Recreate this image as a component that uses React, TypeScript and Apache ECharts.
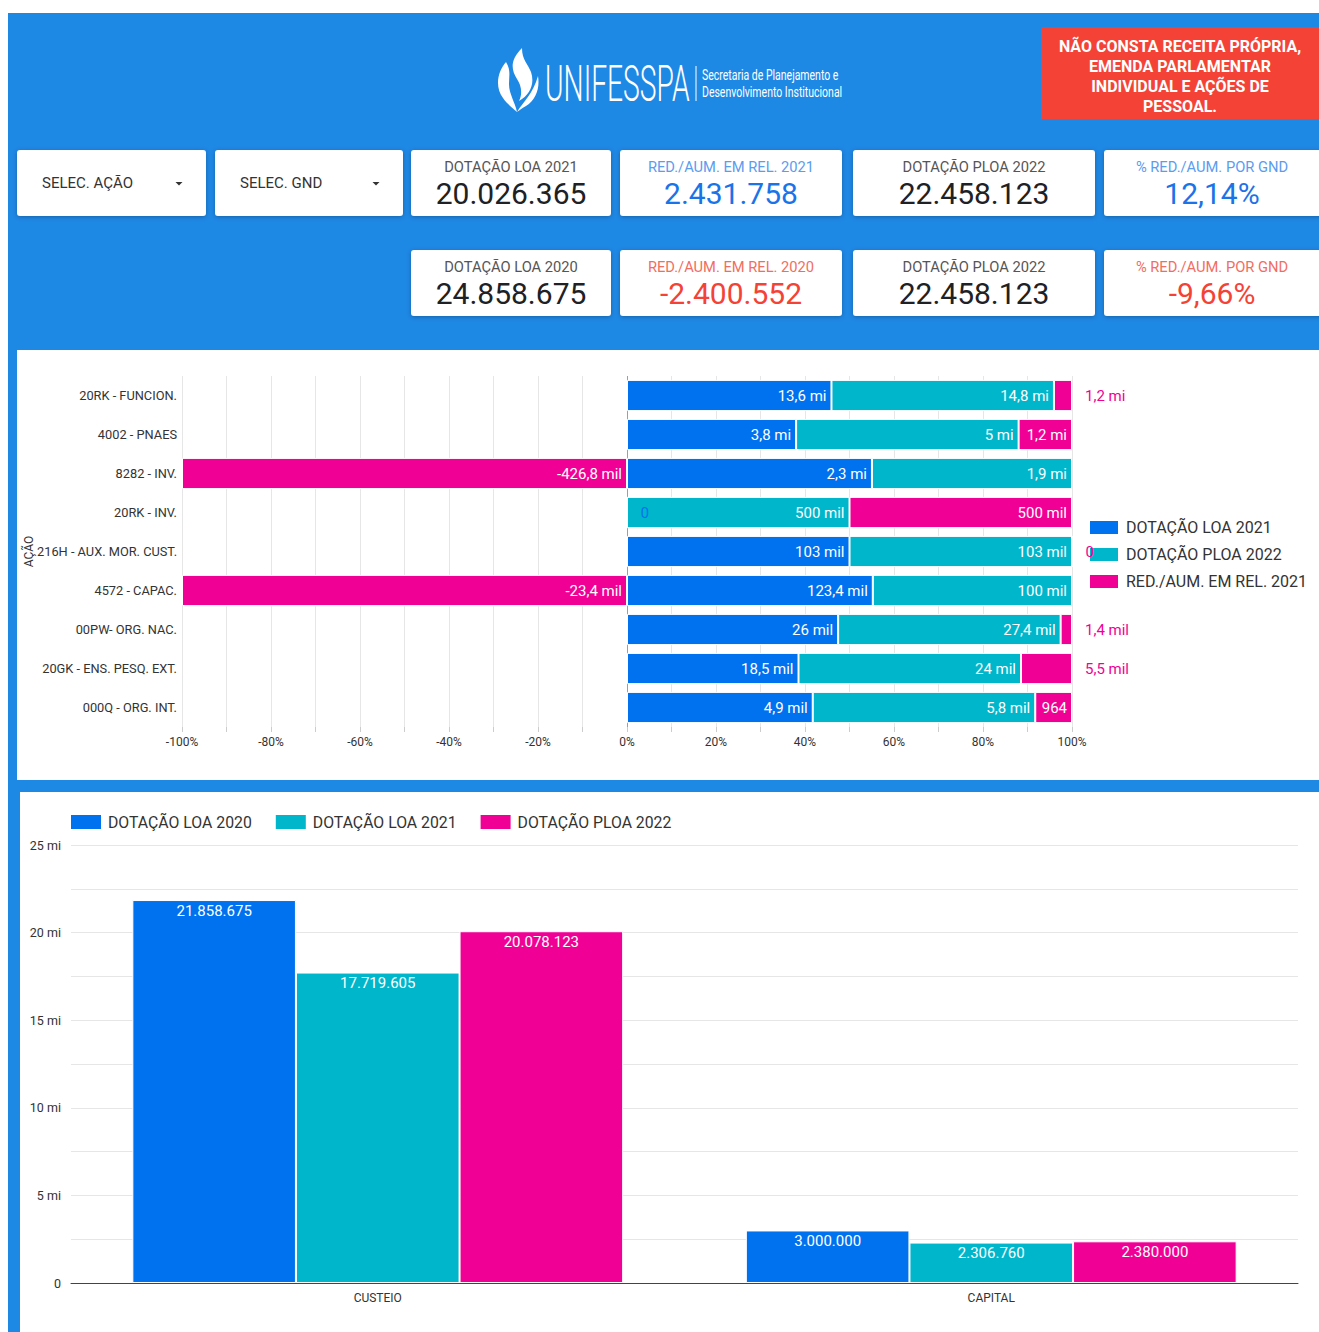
import React, { useEffect, useRef } from 'react';
import * as echarts from 'echarts';

const W = 1319;
const H = 1332;

// ---------- header / KPI data ----------
const noteLines = ['NÃO CONSTA RECEITA PRÓPRIA,', 'EMENDA PARLAMENTAR', 'INDIVIDUAL E AÇÕES DE', 'PESSOAL.'];
const filterLabels = ['SELEC. AÇÃO', 'SELEC. GND'];
const kpiTitlesRow1 = ['DOTAÇÃO LOA 2021', 'RED./AUM. EM REL. 2021', 'DOTAÇÃO PLOA 2022', '% RED./AUM. POR GND'];
const kpiValuesRow1 = ['20.026.365', '2.431.758', '22.458.123', '12,14%'];
const kpiTonesRow1 = ['neutral', 'blue', 'neutral', 'blue'];
const kpiTitlesRow2 = ['DOTAÇÃO LOA 2020', 'RED./AUM. EM REL. 2020', 'DOTAÇÃO PLOA 2022', '% RED./AUM. POR GND'];
const kpiValuesRow2 = ['24.858.675', '-2.400.552', '22.458.123', '-9,66%'];
const kpiTonesRow2 = ['neutral', 'red', 'neutral', 'red'];

// ---------- top chart data ----------
const acoes = [
  '20RK - FUNCION.',
  '4002 - PNAES',
  '8282 - INV.',
  '20RK - INV.',
  '216H - AUX. MOR. CUST.',
  '4572 - CAPAC.',
  '00PW- ORG. NAC.',
  '20GK - ENS. PESQ. EXT.',
  '000Q - ORG. INT.',
];
const loa2021 = [13600000, 3800000, 2326800, 0, 103000, 123400, 26000, 18500, 4872];
const ploa2022 = [14800000, 5000000, 1900000, 500000, 103000, 100000, 27400, 24000, 5836];
const redAum2021 = [1200000, 1200000, -426800, 500000, 0, -23400, 1400, 5500, 964];
const topSeriesNames = ['DOTAÇÃO LOA 2021', 'DOTAÇÃO PLOA 2022', 'RED./AUM. EM REL. 2021'];

// ---------- bottom chart data ----------
const gnd = ['CUSTEIO', 'CAPITAL'];
const loa2020Gnd = [21858675, 3000000];
const loa2021Gnd = [17719605, 2306760];
const ploa2022Gnd = [20078123, 2380000];
const bottomSeriesNames = ['DOTAÇÃO LOA 2020', 'DOTAÇÃO LOA 2021 ', 'DOTAÇÃO PLOA 2022 '];

const C_BLUE = '#0072f0';
const C_TEAL = '#00b6cb';
const C_PINK = '#f10096';
const BG_BLUE = '#1e88e5';

const flamePath =
  'M27 0 C15 12 16 22 22 31 C26 37 28 45 24 53 C35 47 40 36 36 24 C33 16 27 12 27 0 Z ' +
  'M11 14 C2 24 0 40 8 50 C12 56 18 60 22 64 C20 54 14 46 14 36 C14 28 16 22 11 14 Z ' +
  'M43 28 C45 40 41 52 31 58 C27 60 25 62 22 64 C28 54 38 46 43 28 Z';
try {
  echarts.graphic.registerShape('unifesspaFlame', echarts.graphic.extendPath(flamePath, {}));
} catch (e) {
  // ignore
}

function fmtDec(x: number) {
  const r = Math.round(x * 10) / 10;
  return String(r).replace('.', ',');
}
function compact(v: number) {
  const a = Math.abs(v);
  if (a >= 1e6) return fmtDec(v / 1e6) + ' mi';
  if (a >= 1e3) return fmtDec(v / 1e3) + ' mil';
  return String(Math.round(v));
}
function dots(v: number) {
  return String(Math.round(v)).replace(/\B(?=(\d{3})+(?!\d))/g, '.');
}

const G1_LEFT = 182;
const G1_RIGHT_X = 1072;
const G1_TOP = 376;
const G1_H = 351;
const G2_LEFT = 71;
const G2_RIGHT_X = 1298;
const G2_TOP = 845;
const G2_H = 438;

export default function App() {
  const ref = useRef<HTMLDivElement>(null);

  useEffect(() => {
    if (!ref.current) return;
    const chart = echarts.init(ref.current, undefined, { renderer: 'svg' });

    const canvas = document.createElement('canvas');
    const ctx = canvas.getContext('2d') as CanvasRenderingContext2D;
    ctx.font = '15px Roboto';
    const textW = (s: string) => ctx.measureText(s).width;

    const pxPerPct = (G1_RIGHT_X - G1_LEFT) / 200;
    const raws = [loa2021, ploa2022, redAum2021];
    const colors = [C_BLUE, C_TEAL, C_PINK];

    const pctOf = (i: number, v: number) => {
      let pos = 0;
      let neg = 0;
      raws.forEach((arr) => {
        if (arr[i] >= 0) pos += arr[i];
        else neg += -arr[i];
      });
      if (v >= 0) return pos ? (v / pos) * 100 : 0;
      return neg ? (v / neg) * 100 : 0;
    };

    const topSeries = raws.map((arr, si) => {
      const data = arr.map((v, i) => {
        const p = pctOf(i, v);
        const text = compact(v);
        const fits = Math.abs(p) * pxPerPct >= textW(text) + 10;
        return {
          value: p,
          label: fits
            ? { position: 'insideRight', color: '#fff', distance: 5 }
            : { position: 'right', color: colors[si], distance: 13 },
        };
      });
      const s: any = {
        name: topSeriesNames[si],
        type: 'bar',
        stack: 'top',
        z: 5,
        xAxisIndex: 0,
        yAxisIndex: 0,
        barCategoryGap: '20%',
        itemStyle: { color: colors[si], borderColor: '#ffffff', borderWidth: 1 },
        label: {
          show: true,
          fontSize: 15,
          fontFamily: 'Roboto',
          formatter: (pr: any) => compact(arr[pr.dataIndex]),
        },
        data,
      };
      if (si === 0) {
        s.markLine = {
          silent: true,
          symbol: 'none',
          label: { show: false },
          lineStyle: { color: '#9e9e9e', type: 'solid', width: 1 },
          data: [{ xAxis: 0 }],
        };
      }
      return s;
    });

    const bottomArrays = [loa2020Gnd, loa2021Gnd, ploa2022Gnd];
    const bottomSeries = bottomArrays.map((arr, si) => ({
      name: bottomSeriesNames[si],
      type: 'bar',
      xAxisIndex: 1,
      yAxisIndex: 1,
      barGap: '0%',
      barCategoryGap: '20%',
      itemStyle: { color: colors[si], borderColor: '#ffffff', borderWidth: 1 },
      label: {
        show: true,
        position: 'insideTop',
        distance: 3,
        color: '#fff',
        fontSize: 15,
        fontFamily: 'Roboto',
        formatter: (pr: any) => dots(arr[pr.dataIndex]),
      },
      data: arr,
    }));

    // ---------- graphic (background, header, cards) ----------
    const g: any[] = [];
    g.push({ type: 'rect', z: -10, shape: { x: 8, y: 13, width: W - 8, height: H - 13 }, style: { fill: BG_BLUE } });
    g.push({ type: 'rect', z: -9, shape: { x: 17, y: 350, width: W - 17, height: 430 }, style: { fill: '#ffffff' } });
    g.push({ type: 'rect', z: -9, shape: { x: 20, y: 792, width: W - 20, height: H - 792 }, style: { fill: '#ffffff' } });

    // note box
    g.push({ type: 'rect', z: -8, shape: { x: 1041, y: 27, width: W - 1041, height: 92 }, style: { fill: '#f44336' } });
    g.push({
      type: 'text', z: -7, x: 1180, y: 76,
      style: {
        text: noteLines.join('\n'), fill: '#ffffff', fontSize: 16, fontWeight: 'bold', fontFamily: 'Roboto',
        align: 'center', verticalAlign: 'middle', lineHeight: 20,
      },
    });

    // logo
    g.push({ type: 'unifesspaFlame', z: -7, x: 495, y: 48, scaleX: 1, scaleY: 1, style: { fill: '#ffffff' } });
    g.push({
      type: 'text', z: -7, x: 545, y: 84, scaleX: 0.565,
      style: { text: 'UNIFESSPA', fill: '#ffffff', fontSize: 50, fontWeight: 300, fontFamily: 'Roboto', align: 'left', verticalAlign: 'middle' },
    });
    g.push({ type: 'line', z: -7, shape: { x1: 696, y1: 66, x2: 696, y2: 101 }, style: { stroke: '#ffffff', lineWidth: 1 } });
    g.push({
      type: 'text', z: -7, x: 702, y: 75, scaleX: 0.75,
      style: { text: 'Secretaria de Planejamento e', fill: '#ffffff', fontSize: 14, fontFamily: 'Roboto', align: 'left', verticalAlign: 'middle' },
    });
    g.push({
      type: 'text', z: -7, x: 702, y: 92, scaleX: 0.75,
      style: { text: 'Desenvolvimento Institucional', fill: '#ffffff', fontSize: 14, fontFamily: 'Roboto', align: 'left', verticalAlign: 'middle' },
    });

    const cardRect = (x: number, y: number, w: number, h: number) => ({
      type: 'rect', z: -6,
      shape: { x, y, width: w, height: h, r: 3 },
      style: { fill: '#ffffff', shadowBlur: 4, shadowColor: 'rgba(0,0,0,0.28)', shadowOffsetY: 1 },
    });

    // filter cards
    const filterCols = [{ x: 17, w: 189 }, { x: 215, w: 188 }];
    filterCols.forEach((c, i) => {
      g.push(cardRect(c.x, 150, c.w, 66));
      g.push({
        type: 'text', z: -5, x: c.x + 25, y: 183,
        style: { text: filterLabels[i], fill: '#333333', fontSize: 15, fontFamily: 'Roboto', align: 'left', verticalAlign: 'middle' },
      });
      const ax = c.x + c.w - 27;
      g.push({ type: 'polygon', z: -5, shape: { points: [[ax - 3.5, 182], [ax + 3.5, 182], [ax, 185.5]] }, style: { fill: '#333333' } });
    });

    const kpiCols = [{ x: 411, w: 200 }, { x: 620, w: 222 }, { x: 853, w: 242 }, { x: 1104, w: 225 }];
    const toneTitle: any = { neutral: '#555555', blue: '#5a9cf0', red: '#f26d61' };
    const toneValue: any = { neutral: '#202124', blue: '#1a73e8', red: '#f44336' };
    const rows = [
      { y: 150, titles: kpiTitlesRow1, values: kpiValuesRow1, tones: kpiTonesRow1 },
      { y: 250, titles: kpiTitlesRow2, values: kpiValuesRow2, tones: kpiTonesRow2 },
    ];
    rows.forEach((r) => {
      kpiCols.forEach((c, i) => {
        g.push(cardRect(c.x, r.y, c.w, 66));
        const cx = i === 3 ? c.x + 108 : c.x + c.w / 2;
        g.push({
          type: 'text', z: -5, x: cx, y: r.y + 17,
          style: { text: r.titles[i], fill: toneTitle[r.tones[i]], fontSize: 14.7, fontFamily: 'Roboto', align: 'center', verticalAlign: 'middle' },
        });
        g.push({
          type: 'text', z: -5, x: cx, y: r.y + 43,
          style: { text: r.values[i], fill: toneValue[r.tones[i]], fontSize: 30, fontFamily: 'Roboto', align: 'center', verticalAlign: 'middle' },
        });
      });
    });

    const option: any = {
      animation: false,
      textStyle: { fontFamily: 'Roboto, sans-serif' },
      graphic: g,
      legend: [
        {
          data: topSeriesNames,
          orient: 'vertical',
          left: 1088,
          top: 519,
          padding: 0,
          z: 3,
          icon: 'rect',
          itemWidth: 30,
          itemHeight: 15,
          itemGap: 10,
          textStyle: { fontSize: 16, color: '#333333', fontFamily: 'Roboto', padding: [0, 0, 0, 2] },
        },
        {
          data: bottomSeriesNames,
          orient: 'horizontal',
          left: 69,
          top: 813,
          padding: 0,
          icon: 'rect',
          itemWidth: 32,
          itemHeight: 16,
          itemGap: 22,
          formatter: (n: string) => n.trim(),
          textStyle: { fontSize: 15.8, color: '#333333', fontFamily: 'Roboto', padding: [0, 0, 0, 1] },
        },
      ],
      grid: [
        { left: G1_LEFT, width: G1_RIGHT_X - G1_LEFT, top: G1_TOP, height: G1_H, containLabel: false },
        { left: G2_LEFT, width: G2_RIGHT_X - G2_LEFT, top: G2_TOP, height: G2_H, containLabel: false },
      ],
      xAxis: [
        {
          type: 'value',
          gridIndex: 0,
          min: -100,
          max: 100,
          interval: 20,
          axisLine: { show: false },
          axisTick: { show: true, length: 5, lineStyle: { color: '#cccccc' } },
          minorTick: { show: true, splitNumber: 2, length: 5, lineStyle: { color: '#cccccc' } },
          splitLine: { show: true, lineStyle: { color: '#e6e6e6' } },
          minorSplitLine: { show: true, lineStyle: { color: '#e6e6e6' } },
          axisLabel: { formatter: '{value}%', fontSize: 12, color: '#333333', margin: 9 },
        },
        {
          type: 'category',
          gridIndex: 1,
          data: gnd,
          axisLine: { show: true, lineStyle: { color: '#444444' } },
          axisTick: { show: false },
          axisLabel: { fontSize: 12, color: '#333333', margin: 9 },
        },
      ],
      yAxis: [
        {
          type: 'category',
          gridIndex: 0,
          data: acoes,
          inverse: true,
          axisLine: { show: false, onZero: false },
          axisTick: { show: false },
          axisLabel: { fontSize: 12.8, color: '#333333', margin: 5 },
          name: 'AÇÃO',
          nameLocation: 'middle',
          nameRotate: 90,
          nameGap: 147,
          nameMoveOverlap: false,
          nameTextStyle: { fontSize: 12, color: '#333333' },
        },
        {
          type: 'value',
          gridIndex: 1,
          min: 0,
          max: 25000000,
          interval: 5000000,
          axisLine: { show: false },
          axisTick: { show: false },
          minorTick: { show: false, splitNumber: 2 },
          splitLine: { show: true, lineStyle: { color: '#e6e6e6' } },
          minorSplitLine: { show: true, lineStyle: { color: '#e6e6e6' } },
          axisLabel: {
            fontSize: 12.5,
            color: '#333333',
            margin: 10,
            formatter: (v: number) => (v === 0 ? '0' : v / 1e6 + ' mi'),
          },
        },
      ],
      series: [...topSeries, ...bottomSeries],
    };

    chart.setOption(option);
    return () => {
      chart.dispose();
    };
  }, []);

  return <div ref={ref} style={{ position: 'absolute', left: 0, top: 0, width: W, height: H }} />;
}
